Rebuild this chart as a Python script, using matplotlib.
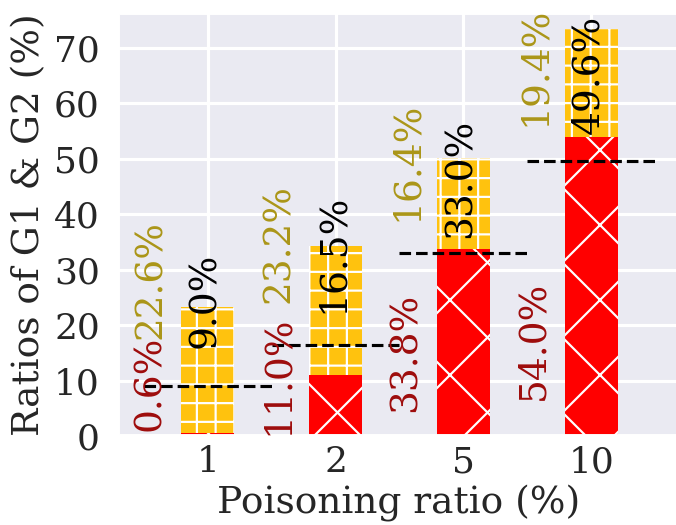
import matplotlib
matplotlib.use('Agg')
import matplotlib.pyplot as plt
import seaborn as sns
import numpy as np

# ---- data ----
categories = ['1', '2', '5', '10']          # poisoning ratio (%)
g1 = [0.6, 11.0, 33.8, 54.0]                # G1 ratio (%)
g2 = [22.6, 23.2, 16.4, 19.4]               # G2 ratio (%)
ref = [9.0, 16.5, 33.0, 49.6]               # dashed reference level (%)

# ---- label layout (text centres, data units) ----
g1_label_y = [9.5, 11.0, 15.0, 17.3]
g2_label_y = [28.2, 34.7, 49.5, 66.6]
ref_label_y = [24.5, 32.9, 46.5, 65.3]

sns.set_theme(style='darkgrid')
plt.rcParams['font.family'] = ['DejaVu Serif']
plt.rcParams['hatch.linewidth'] = 0.7

DPI = 225
W, H = 676, 525
fig = plt.figure(figsize=(W / DPI, H / DPI), dpi=DPI)
ax_l, ax_r, ax_t, ax_b = 118, 681, 13, 436
ax = fig.add_axes([ax_l / W, (H - ax_b) / H, (ax_r - ax_l) / W, (ax_b - ax_t) / H])

x = np.arange(len(categories))
bw = 0.41
ax.bar(x, g1, width=bw, color='#ff0000', edgecolor='white', linewidth=0,
       hatch='x', zorder=2)
ax.bar(x, g2, bottom=g1, width=bw, color='#ffc20e', edgecolor='white',
       linewidth=0, hatch='++', zorder=2)

for i, r in enumerate(ref):
    ax.plot([x[i] - 0.5, x[i] + 0.5], [r, r], ls='--', color='black',
            lw=1.0, zorder=4)

red_txt = '#9e0c0c'
gold_txt = '#ab9618'
for i in range(len(categories)):
    ax.text(x[i] - 0.45, g1_label_y[i], f'{g1[i]:.1f}%', rotation=90,
            ha='center', va='center', color=red_txt, fontsize=12, zorder=5)
    ax.text(x[i] - 0.44, g2_label_y[i], f'{g2[i]:.1f}%', rotation=90,
            ha='center', va='center', color=gold_txt, fontsize=12, zorder=5)
    ax.text(x[i] - 0.02, ref_label_y[i], f'{ref[i]:.1f}%', rotation=90,
            ha='center', va='center', color='black', fontsize=12, zorder=5)

ax.set_xlim(-0.7, 3.7)
ax.set_ylim(0, 76.3)
ax.set_xticks(x, categories)
ax.set_yticks(range(0, 80, 10))
ax.tick_params(axis='both', labelsize=11.5, colors='.15', length=0)
ax.tick_params(axis='x', pad=3.0)
ax.tick_params(axis='y', pad=5.8)
ax.set_xlabel('Poisoning ratio (%)', fontsize=12, color='.15')
ax.set_ylabel('Ratios of G1 & G2 (%)', fontsize=12, color='.15')
axw, axh = ax_r - ax_l, ax_b - ax_t
ax.xaxis.set_label_coords((399 - ax_l) / axw, (ax_b - 485) / axh)
ax.yaxis.set_label_coords((47 - ax_l) / axw, 0.5)

fig.savefig('out.png', dpi=DPI)
